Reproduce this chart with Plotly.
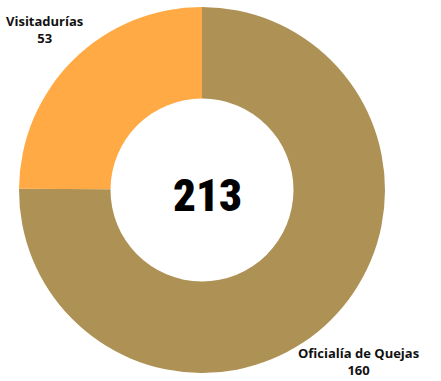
import plotly.graph_objects as go

labels = ["Oficialía de Quejas", "Visitadurías"]
values = [160, 53]
colors = ["#AE9255", "#FFAA44"]
total = sum(values)

W, H = 441, 381
cx, cy, r = 202, 190, 183  # pie centre / radius in px

fig = go.Figure(go.Pie(
    labels=labels,
    values=values,
    hole=0.5,
    sort=False,
    direction="clockwise",
    rotation=0,
    marker=dict(colors=colors, line=dict(width=0)),
    textinfo="none",
    hoverinfo="label+value",
    domain=dict(x=[(cx - r) / W, (cx + r) / W], y=[(H - cy - r) / H, (H - cy + r) / H]),
    showlegend=False,
))

label_font = dict(family="Open Sans", size=13, color="#111111")
fig.add_annotation(x=44 / W, y=1 - 29 / H, xref="paper", yref="paper",
                   xanchor="center", yanchor="middle",
                   text=f"<b>{labels[1]}</b><br><b>{values[1]}</b>",
                   showarrow=False, font=label_font, align="center")
fig.add_annotation(x=358 / W, y=1 - 361 / H, xref="paper", yref="paper",
                   xanchor="center", yanchor="middle",
                   text=f"<b>{labels[0]}</b><br><b>{values[0]}</b>",
                   showarrow=False, font=label_font, align="center")
fig.add_annotation(x=(cx + 5) / W, y=1 - 195 / H, xref="paper", yref="paper",
                   xanchor="center", yanchor="middle",
                   text=f"{total}", showarrow=False,
                   font=dict(family="Roboto Condensed, Liberation Sans Narrow, DejaVu Sans Condensed",
                             size=45, weight=900, color="#000000"))

fig.update_layout(width=W, height=H, margin=dict(l=0, r=0, t=0, b=0),
                  paper_bgcolor="white", plot_bgcolor="white")
fig.write_html("out.html")
